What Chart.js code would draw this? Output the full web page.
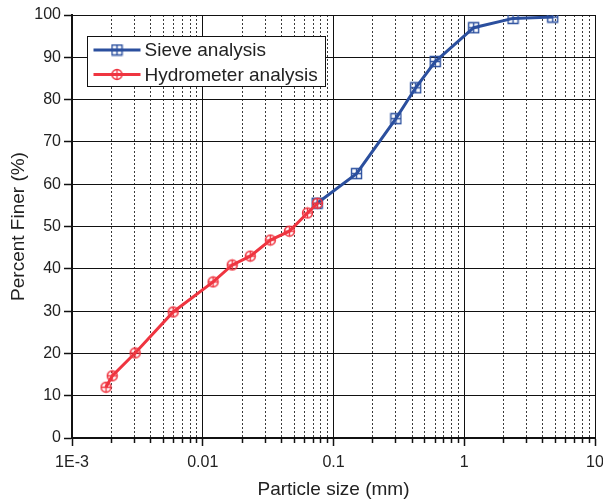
<!DOCTYPE html>
<html>
<head>
<meta charset="utf-8">
<script src="https://cdn.jsdelivr.net/npm/chart.js@4/dist/chart.umd.min.js"></script>
<style>
  html, body { margin: 0; padding: 0; background: #fff; }
  #wrap { width: 603px; height: 504px; }
</style>
</head>
<body>
<div id="wrap"><canvas id="c" width="603" height="504"></canvas></div>
<script>
// ---- data ----
const sieveSize = [0.075, 0.15, 0.3, 0.425, 0.6, 1.18, 2.36, 4.75];
const sievePass = [55.5, 62.5, 75.5, 82.8, 89, 97, 99.2, 99.5];

const hydroSize = [0.00182, 0.00203, 0.00304, 0.00594, 0.0120, 0.0168, 0.0231, 0.0329, 0.046, 0.0632, 0.0754];
const hydroPass = [12, 14.7, 20.1, 29.8, 36.9, 40.9, 43, 46.8, 48.9, 53.2, 55.5];

const seriesLabels = ['Sieve analysis', 'Hydrometer analysis'];
const xDecades = [0.001, 0.01, 0.1, 1, 10];
const xTickLabels = ['1E-3', '0.01', '0.1', '1', '10'];
const xTitle = 'Particle size (mm)';
const yTitle = 'Percent Finer (%)';

// ---- build ----
const BLUE = '#2b4f9e';
const RED = '#ef3540';
const FONT = "'Liberation Sans', Arial, sans-serif";

function makeMarker(shape, color) {
  const s = 13;
  const c = document.createElement('canvas');
  c.width = s; c.height = s;
  const g = c.getContext('2d');
  g.strokeStyle = color;
  g.lineWidth = 1.4;
  g.beginPath();
  if (shape === 'square') {
    g.rect(1.5, 1.5, 10, 10);
  } else {
    g.arc(6.5, 6.5, 5, 0, Math.PI * 2);
  }
  g.moveTo(6.5, 1.5); g.lineTo(6.5, 11.5);
  g.moveTo(1.5, 6.5); g.lineTo(11.5, 6.5);
  g.stroke();
  return c;
}
const sqMarker = makeMarker('square', BLUE);
const ciMarker = makeMarker('circle', RED);

const xTickValues = [];
for (let d = 0; d < xDecades.length - 1; d++) {
  for (let m = 1; m <= 9; m++) xTickValues.push(+(xDecades[d] * m).toPrecision(6));
}
xTickValues.push(xDecades[xDecades.length - 1]);

const isMajorX = (i) => i % 9 === 0;
const isMajorY = (v) => Math.round(v) % 10 === 0;

const legendPlugin = {
  id: 'boxLegend',
  afterDatasetsDraw(chart) {
    const ctx = chart.ctx;
    const a = chart.chartArea;
    const x0 = a.left + 15.5, y0 = a.top + 21.5, w = 238, h = 50;
    ctx.save();
    ctx.fillStyle = '#fff';
    ctx.fillRect(x0, y0, w, h);
    ctx.strokeStyle = '#111';
    ctx.lineWidth = 1;
    ctx.strokeRect(x0, y0, w, h);
    chart.data.datasets.forEach((ds, i) => {
      const cy = y0 + 13.5 + i * 24.5;
      ctx.strokeStyle = ds.borderColor;
      ctx.lineWidth = 3;
      ctx.beginPath();
      ctx.moveTo(x0 + 6, cy);
      ctx.lineTo(x0 + 53, cy);
      ctx.stroke();
      const img = ds.pointStyle;
      ctx.drawImage(img, x0 + 29.5 - img.width / 2, cy - img.height / 2);
      ctx.fillStyle = '#222';
      ctx.font = '19px ' + FONT;
      ctx.textBaseline = 'middle';
      ctx.fillText(ds.label, x0 + 57, cy + 1);
    });
    ctx.restore();
  }
};

new Chart(document.getElementById('c'), {
  type: 'line',
  data: {
    datasets: [
      {
        label: seriesLabels[0],
        data: sieveSize.map((s, i) => ({ x: s, y: sievePass[i] })),
        borderColor: BLUE,
        backgroundColor: BLUE,
        borderWidth: 3,
        pointStyle: sqMarker,
        pointRadius: 5,
        tension: 0,
        order: 2
      },
      {
        label: seriesLabels[1],
        data: hydroSize.map((s, i) => ({ x: s, y: hydroPass[i] })),
        borderColor: RED,
        backgroundColor: RED,
        borderWidth: 3,
        pointStyle: ciMarker,
        pointRadius: 5,
        tension: 0,
        order: 1
      }
    ]
  },
  options: {
    responsive: false,
    animation: false,
    layout: { padding: { top: 15, right: 4, left: 0, bottom: 0 } },
    plugins: { legend: { display: false }, tooltip: { enabled: false } },
    scales: {
      x: {
        type: 'logarithmic',
        min: 0.001,
        max: 10,
        afterBuildTicks(scale) {
          scale.ticks = xTickValues.map(v => ({ value: v }));
        },
        afterFit(scale) {
          scale.height = 66;
          scale.paddingRight = 0;
        },
        ticks: {
          autoSkip: false,
          maxRotation: 0,
          padding: 7,
          color: '#222',
          font: { family: FONT, size: 16 },
          callback(value, index) {
            return isMajorX(index) ? xTickLabels[index / 9] : '';
          }
        },
        grid: {
          color: (c) => (c.tick && !isMajorX(c.index)) ? '#3a3a3a' : '#111',
          lineWidth: 1,
          tickLength: 8,
          tickColor: '#111',
          tickWidth: 1.5,
          tickBorderDash: (c) => (c.tick && !isMajorX(c.index)) ? [4, 100] : []
        },
        border: {
          color: '#111',
          width: 2,
          dash: (c) => (c.tick && !isMajorX(c.index)) ? [2, 2] : []
        },
        title: {
          display: true,
          text: xTitle,
          color: '#222',
          font: { family: FONT, size: 19 },
          padding: { top: 0, bottom: 3 }
        }
      },
      y: {
        type: 'linear',
        min: 0,
        max: 100,
        afterFit(scale) { scale.width = 72; },
        ticks: {
          stepSize: 5,
          padding: 3,
          color: '#222',
          font: { family: FONT, size: 16 },
          callback(value) { return isMajorY(value) ? String(value) : ''; }
        },
        grid: {
          color: (c) => (c.tick && !isMajorY(c.tick.value)) ? '#3a3a3a' : '#111',
          lineWidth: 1,
          tickLength: 8,
          tickColor: '#111',
          tickWidth: 1.5,
          tickBorderDash: (c) => (c.tick && !isMajorY(c.tick.value)) ? [4, 100] : []
        },
        border: {
          color: '#111',
          width: 2,
          dash: (c) => (c.tick && !isMajorY(c.tick.value)) ? [2, 2] : []
        },
        title: {
          display: true,
          text: yTitle,
          color: '#222',
          font: { family: FONT, size: 19 },
          padding: { top: 7, bottom: 0 }
        }
      }
    }
  },
  plugins: [legendPlugin]
});
</script>
</body>
</html>
